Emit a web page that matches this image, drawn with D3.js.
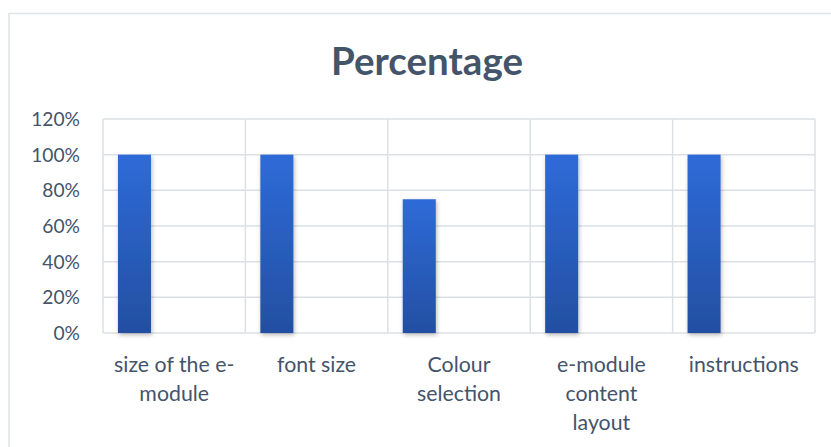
<!DOCTYPE html>
<html><head><meta charset="utf-8">
<script src="https://cdn.jsdelivr.net/npm/d3@7"></script>
<style>
html,body{margin:0;padding:0;background:#fff;}
svg{display:block;}
text{font-family:Lato,"Liberation Sans",sans-serif;fill:#44546A;}
</style></head>
<body>
<svg id="chart" width="831" height="447"></svg>
<script>
const categories = [["size of the e-","module"],["font size"],["Colour","selection"],["e-module","content","layout"],["instructions"]];
const categoryKeys = ["size of the e-module","font size","Colour selection","e-module content layout","instructions"];
const values = [100, 100, 75, 100, 100];
const yTicks = [0, 20, 40, 60, 80, 100, 120];
const title = "Percentage";

const svg = d3.select("#chart");
const W = 831, H = 447;
const m = {left:103, right:16, top:119, bottom:114};
const plotR = W - m.right, plotB = H - m.bottom;

// outer chart border
svg.append("rect").attr("x",9).attr("y",13.5).attr("width",840).attr("height",460)
  .attr("fill","#fff").attr("stroke","#DFE3E8").attr("stroke-width",1.5);

const defs = svg.append("defs");
const grad = defs.append("linearGradient").attr("id","barGrad").attr("x1",0).attr("y1",0).attr("x2",0).attr("y2",1);
grad.append("stop").attr("offset","0%").attr("stop-color","#2E6BD8");
grad.append("stop").attr("offset","100%").attr("stop-color","#234FA2");
const f = defs.append("filter").attr("id","shadow").attr("x","-30%").attr("y","-10%").attr("width","160%").attr("height","130%");
f.append("feDropShadow").attr("dx",1).attr("dy",2).attr("stdDeviation",2.2).attr("flood-color","#000").attr("flood-opacity",0.28);

const x = d3.scaleBand().domain(categoryKeys).range([m.left, plotR]).paddingInner(0).paddingOuter(0);
const y = d3.scaleLinear().domain([0,120]).range([plotB, m.top]);

// horizontal grid
const g = svg.append("g");
g.selectAll(".hg").data(yTicks).join("line")
  .attr("x1",m.left).attr("x2",plotR)
  .attr("y1",d=>y(d)).attr("y2",d=>y(d))
  .attr("stroke","#DCE0E5").attr("stroke-width",1.5);
// vertical grid (category boundaries)
const bounds = categoryKeys.map(c=>x(c)).concat([plotR]);
g.selectAll(".vg").data(bounds).join("line")
  .attr("x1",d=>d).attr("x2",d=>d)
  .attr("y1",m.top).attr("y2",plotB)
  .attr("stroke","#DCE0E5").attr("stroke-width",1.5);

// y axis labels
svg.append("g").selectAll("text").data(yTicks).join("text")
  .attr("x",80).attr("y",d=>y(d)).attr("dy","0.36em")
  .attr("text-anchor","end").attr("font-size",19.2)
  .text(d=>d+"%");

// bars
const bw = x.bandwidth();
svg.append("g").selectAll("rect").data(values).join("rect")
  .attr("x",(d,i)=>x(categoryKeys[i]) + bw*0.105)
  .attr("width",bw*0.232)
  .attr("y",d=>y(d))
  .attr("height",d=>plotB - y(d))
  .attr("fill","url(#barGrad)")
  .attr("filter","url(#shadow)");

// x labels
const xl = svg.append("g").selectAll("text").data(categories).join("text")
  .attr("text-anchor","middle").attr("font-size",21.3)
  .attr("transform",(d,i)=>`translate(${x(categoryKeys[i])+bw/2},372)`);
xl.selectAll("tspan").data(d=>d).join("tspan")
  .attr("x",0).attr("dy",(d,i)=>i===0?0:29).text(d=>d);

// title
svg.append("text").attr("x",427).attr("y",75).attr("text-anchor","middle")
  .attr("font-size",38.5).attr("font-weight","bold").text(title);
</script>
</body></html>
